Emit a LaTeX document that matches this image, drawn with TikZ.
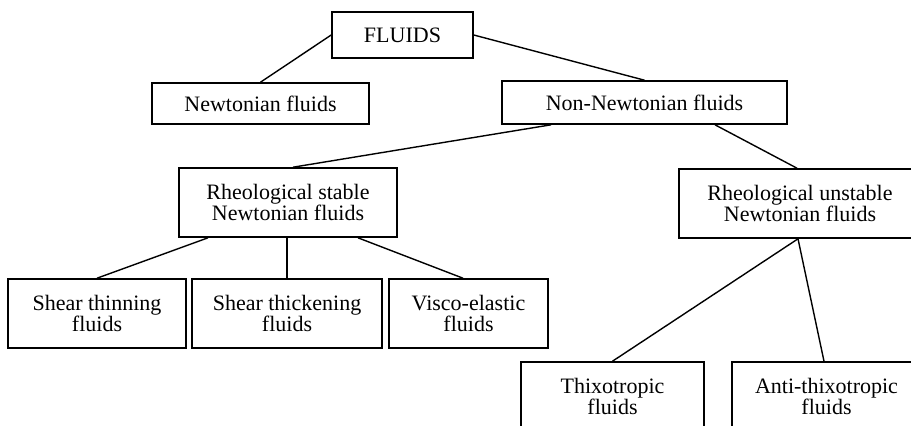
\documentclass[tikz,border=0pt]{standalone}
\usepackage{fontspec}
\setmainfont{Liberation Serif}
\usetikzlibrary{calc}

\tikzset{
  cell/.style={draw,line width=.8pt,align=center,inner sep=0pt,
    font=\fontsize{11}{10.8}\selectfont},
  link/.style={line width=.7pt}
}

\begin{document}
\begin{tikzpicture}[x=.5pt,y=-.5pt]
  \useasboundingbox (0,0) rectangle (911,425);
  \clip (0,0) rectangle (911,425);
  % top levels
  \node[cell,minimum width=70.5pt,minimum height=23pt] (fluids) at (402.5,35) {FLUIDS};
  \node[cell,minimum width=108.5pt,minimum height=20.5pt] (newt) at (260.5,103.5) {Newtonian fluids};
  \node[cell,minimum width=142.5pt,minimum height=21.5pt] (nonnewt) at (644.5,102.5) {Non-Newtonian fluids};
  %
  \node[cell,minimum width=109pt,minimum height=34.5pt] (stable) at (288,202.5) {Rheological stable\\Newtonian fluids};
  \node[cell,minimum width=121pt,minimum height=34.5pt] (unstable) at (800,203.5) {Rheological unstable\\Newtonian fluids};
  % leaves
  \node[cell,minimum width=89pt,minimum height=34.5pt] (thinning) at (97,313.5) {Shear thinning\\fluids};
  \node[cell,minimum width=95pt,minimum height=34.5pt] (thickening) at (287,313.5) {Shear thickening\\fluids};
  \node[cell,minimum width=79.5pt,minimum height=34.5pt] (visco) at (468.5,313.5) {Visco-elastic\\fluids};
  \node[cell,minimum width=91.5pt,minimum height=34.5pt] (thixo) at (612.5,396.5) {Thixotropic\\fluids};
  \node[cell,minimum width=94.5pt,minimum height=34.5pt] (antithixo) at (826.5,396.5) {Anti-thixotropic\\fluids};
  %
  \draw[link] (fluids.west) -- (newt.north);
  \draw[link] (fluids.east) -- (nonnewt.north);
  \draw[link] ($(nonnewt.south)+(-93.5,0)$) -- ($(stable.north)+(5,0)$);
  \draw[link] ($(nonnewt.south)+(70.5,0)$) -- ($(unstable.north)+(-3,0)$);
  \draw[link] ($(stable.south)+(-80,0)$) -- (thinning.north);
  \draw[link] ($(stable.south)+(-1,0)$) -- ($(thickening.north)$);
  \draw[link] ($(stable.south)+(70,0)$) -- ($(visco.north)+(-5.5,0)$);
  \draw[link] ($(unstable.south)+(-2,0)$) -- (thixo.north);
  \draw[link] ($(unstable.south)+(-2,0)$) -- ($(antithixo.north)+(-2.5,0)$);
\end{tikzpicture}
\end{document}
